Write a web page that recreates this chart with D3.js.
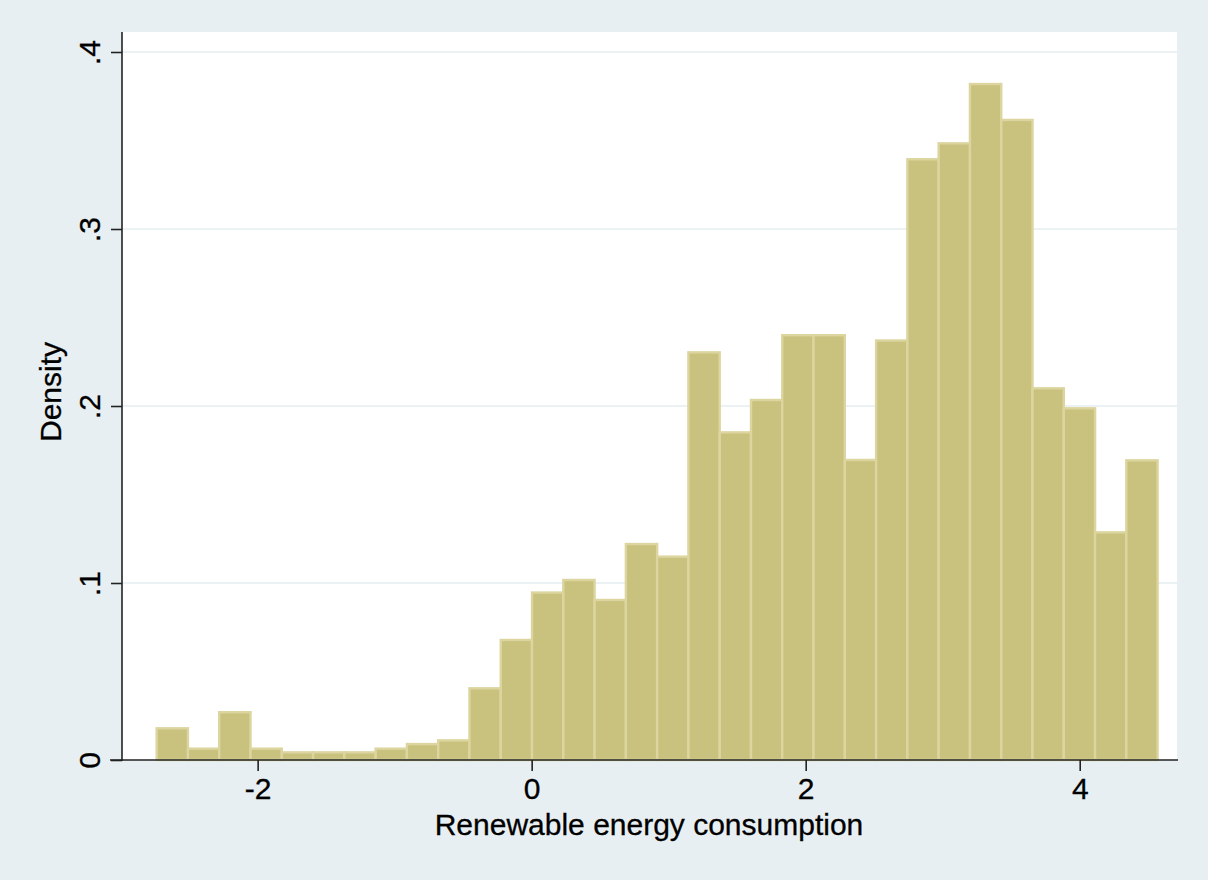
<!DOCTYPE html>
<html>
<head>
<meta charset="utf-8">
<script src="https://cdn.jsdelivr.net/npm/d3@7"></script>
<style>
  html, body { margin: 0; padding: 0; background: #e8eff2; }
  svg { display: block; }
  text { font-family: "Liberation Sans", Arial, Helvetica, sans-serif; fill: #000; }
</style>
</head>
<body>
<svg id="chart" width="1208" height="880"></svg>
<script>
// Histogram bins: first left edge and common bin width (data units)
const binStart = -2.737;
const binWidth = 0.2283;

// Density of each bin, left to right
const densities = [
  0.0179, 0.0064, 0.0270, 0.0064, 0.0043, 0.0043, 0.0043, 0.0064,
  0.0090, 0.0111, 0.0405, 0.0678, 0.0946, 0.1017, 0.0904, 0.1220,
  0.1149, 0.2303, 0.1851, 0.2034, 0.2400, 0.2400, 0.1695, 0.2370,
  0.3394, 0.3484, 0.3819, 0.3616, 0.2100, 0.1987, 0.1286, 0.1693
];

// Axis ticks and titles
const xTicks = [-2, 0, 2, 4];
const xTickLabels = ["-2", "0", "2", "4"];
const yTicks = [0, 0.1, 0.2, 0.3, 0.4];
const yTickLabels = ["0", ".1", ".2", ".3", ".4"];
const xTitle = "Renewable energy consumption";
const yTitle = "Density";

const bins = densities.map((d, i) => ({
  x0: binStart + i * binWidth,
  x1: binStart + (i + 1) * binWidth,
  density: d
}));

const svg = d3.select("#chart");
const plot = { left: 122, right: 1177, top: 32, bottom: 760 };
const labelFont = 30;

const x = d3.scaleLinear()
  .domain([-2.99, 4.71])
  .range([plot.left, plot.right]);

const y = d3.scaleLinear()
  .domain([0, 0.4])
  .range([plot.bottom, 52]);

// Plot region
svg.append("rect")
  .attr("x", plot.left).attr("y", plot.top)
  .attr("width", plot.right - plot.left)
  .attr("height", plot.bottom - plot.top)
  .attr("fill", "#ffffff");

// Horizontal grid lines
svg.append("g")
  .selectAll("line")
  .data(yTicks.filter(v => v > 0))
  .join("line")
  .attr("x1", plot.left).attr("x2", plot.right)
  .attr("y1", d => y(d)).attr("y2", d => y(d))
  .attr("stroke", "#e6eef1")
  .attr("stroke-width", 1.6);

// Bars
svg.append("g")
  .selectAll("rect")
  .data(bins)
  .join("rect")
  .attr("x", d => x(d.x0))
  .attr("width", d => x(d.x1) - x(d.x0))
  .attr("y", d => y(d.density))
  .attr("height", d => y(0) - y(d.density))
  .attr("fill", "#c8c27e")
  .attr("stroke", "#dcd59f")
  .attr("stroke-width", 2.4);

// X axis
const xAxis = d3.axisBottom(x)
  .tickValues(xTicks)
  .tickFormat((d, i) => xTickLabels[i])
  .tickSize(11)
  .tickPadding(7)
  .tickSizeOuter(0);

const gx = svg.append("g")
  .attr("transform", `translate(0,${plot.bottom})`)
  .call(xAxis);
gx.select(".domain").remove();
gx.append("line")
  .attr("x1", 110).attr("x2", plot.right + 1)
  .attr("y1", 0).attr("y2", 0)
  .attr("stroke", "#222").attr("stroke-width", 1.6);
gx.selectAll(".tick line").attr("stroke", "#222").attr("stroke-width", 1.6);
gx.selectAll(".tick text")
  .style("font-family", "'Liberation Sans', Arial, sans-serif")
  .attr("font-size", labelFont)
  .attr("fill", "#000")
  .attr("stroke", "#000").attr("stroke-width", 0.3);

// Y axis
const yAxis = d3.axisLeft(y)
  .tickValues(yTicks)
  .tickFormat((d, i) => yTickLabels[i])
  .tickSize(11)
  .tickSizeOuter(0);

const gy = svg.append("g")
  .attr("transform", `translate(${plot.left},0)`)
  .call(yAxis);
gy.select(".domain").remove();
gy.append("line")
  .attr("x1", 0).attr("x2", 0)
  .attr("y1", plot.top).attr("y2", plot.bottom + 1)
  .attr("stroke", "#222").attr("stroke-width", 1.6);
gy.selectAll(".tick line").attr("stroke", "#222").attr("stroke-width", 1.6);
gy.selectAll(".tick text")
  .attr("x", null).attr("dy", null)
  .attr("transform", "translate(-22,0) rotate(-90)")
  .attr("text-anchor", "middle")
  .style("font-family", "'Liberation Sans', Arial, sans-serif")
  .attr("font-size", labelFont)
  .attr("fill", "#000")
  .attr("stroke", "#000").attr("stroke-width", 0.3);

// Axis titles
svg.append("text")
  .attr("x", 649).attr("y", 835)
  .attr("text-anchor", "middle")
  .attr("font-size", labelFont)
  .attr("stroke", "#000").attr("stroke-width", 0.3)
  .text(xTitle);

svg.append("text")
  .attr("transform", "translate(61,392) rotate(-90)")
  .attr("text-anchor", "middle")
  .attr("font-size", labelFont)
  .attr("stroke", "#000").attr("stroke-width", 0.3)
  .text(yTitle);
</script>
</body>
</html>
